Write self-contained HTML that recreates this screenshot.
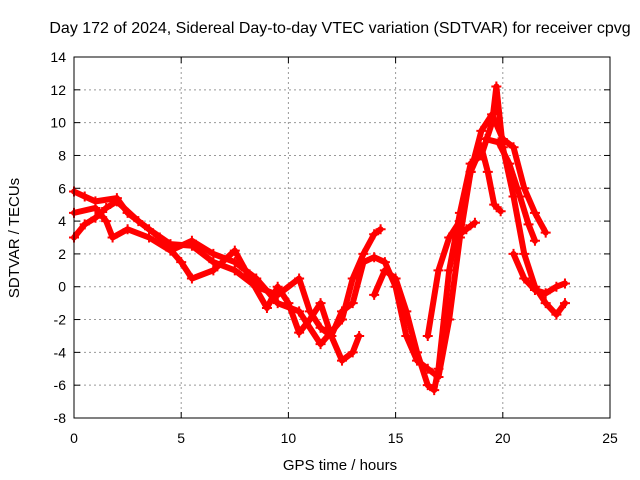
<!DOCTYPE html>
<html><head><meta charset="utf-8"><style>
body{margin:0;background:#fff;}
svg{display:block;font-family:"Liberation Sans",sans-serif;}
</style></head><body>
<svg id="chart" width="640" height="480">
<text x="340" y="33" font-size="16" text-anchor="middle">Day 172 of 2024, Sidereal Day-to-day VTEC variation (SDTVAR) for receiver cpvg</text>
<text x="340" y="470" font-size="15" text-anchor="middle">GPS time / hours</text>
<text transform="translate(19,238) rotate(-90)" font-size="15" text-anchor="middle">SDTVAR / TECUs</text>
<g id="grid"></g><g id="ticks"></g><g id="series"></g>
<rect x="74" y="57" width="536" height="361" fill="none" stroke="#000" stroke-width="1"/>
</svg>
<script>
const xTicks=[0,5,10,15,20,25];
const yTicks=[-8,-6,-4,-2,0,2,4,6,8,10,12,14];
const trackA=[[0,5.8],[0.5,5.5],[1,5.2],[2,5.4],[2.5,4.5],[3.5,3.5],[4.5,2.6],[5.5,2.5],[6.5,1.5],[7.5,1],[8.5,0],[9.5,-0.5],[10.5,0.5],[11,-1.5],[11.5,-2.5],[12,-3],[12.5,-1.5],[13,-1],[13.5,1.5],[14,1.8],[14.5,1.5],[15,0],[15.5,-3],[16,-4.5],[16.5,-5],[17,-5.5],[17.5,-2],[18,3],[18.5,7],[19,9.5],[19.5,10.5],[20,9],[20.5,8.5],[21,6],[21.5,4.5],[22,3.3]];
const trackB=[[0,3],[0.5,3.8],[1,4.2],[1.5,4.8],[2,5.2],[3,4],[4,3],[5,1.5],[5.5,0.5],[6.5,1],[7.5,2.2],[8,1],[9,-1.3],[9.5,0],[10,-1],[10.5,-2.8],[11,-2],[11.5,-1],[12,-3],[12.5,-4.5],[13,-4],[13.3,-3]];
const trackC=[[0,4.5],[1,4.8],[1.5,4],[1.8,3],[2.5,3.5],[3.5,3],[4.5,2.2],[5.5,2.8],[6.5,2],[7.5,1.5],[8.5,0.5],[9.5,-1],[10.5,-1.5],[11.5,-3.5],[12.5,-2],[13,0.5],[13.5,2],[14,3.2],[14.3,3.5]];
const trackD=[[14,-0.5],[14.5,1],[15,0.5],[15.5,-1.5],[16,-4],[16.5,-6],[16.8,-6.3],[17,-5],[17.5,1],[18,4.5],[18.5,7.5],[19,8],[19.5,10],[19.7,12.2],[20,8.5],[20.5,5.5],[21,2],[21.5,0],[22,-1],[22.5,-1.7],[22.9,-1]];
const trackE=[[16.5,-3],[17,1],[17.5,3],[18,4],[18.5,7],[19,8.5],[19.3,7],[19.6,5],[19.9,4.6]];
const trackF=[[17.8,3],[18.3,3.5],[18.7,3.9]];
const trackG=[[19.2,9],[19.8,8.8],[20.3,7.5],[20.8,5.5],[21.2,3.8],[21.5,2.8]];
const trackH=[[20.5,2],[21,0.5],[21.5,-0.2],[22,-0.4],[22.5,0],[22.9,0.2]];
const tracks=[trackA,trackB,trackC,trackD,trackE,trackF,trackG,trackH];
const X0=74,X1=610,Y0=418,Y1=57;
const sx=v=>X0+(v-0)/(25-0)*(X1-X0);
const sy=v=>Y0-(v+8)/(14+8)*(Y0-Y1);
const NS="http://www.w3.org/2000/svg";
const g=document.getElementById('grid'),t=document.getElementById('ticks'),s=document.getElementById('series');
function mk(tag,at,p){const e=document.createElementNS(NS,tag);for(const k in at)e.setAttribute(k,at[k]);p.appendChild(e);return e;}
xTicks.forEach(v=>{const x=sx(v);
 if(v>0&&v<25){const l=mk('line',{x1:x,x2:x,y1:Y1,y2:Y0,stroke:'#999','stroke-dasharray':'2,3'},g);
 
 }
 mk('line',{x1:x,x2:x,y1:Y0,y2:Y0-6,stroke:'#000'},t);mk('line',{x1:x,x2:x,y1:Y1,y2:Y1+6,stroke:'#000'},t);
 const tx=mk('text',{x:x,y:443,'font-size':14,'text-anchor':'middle'},t);tx.textContent=v;
 
 });
yTicks.forEach(v=>{const y=sy(v);
 if(v>-8&&v<14){const l=mk('line',{x1:X0,x2:X1,y1:y,y2:y,stroke:'#999','stroke-dasharray':'2,3'},g);
 
 }
 mk('line',{x1:X0,x2:X0+6,y1:y,y2:y,stroke:'#000'},t);mk('line',{x1:X1,x2:X1-6,y1:y,y2:y,stroke:'#000'},t);
 const tx=mk('text',{x:X0-8,y:y+5,'font-size':14,'text-anchor':'end'},t);tx.textContent=v;
 
 });
tracks.forEach(tr=>{
 const p=mk('polyline',{points:tr.map(d=>sx(d[0])+','+sy(d[1])).join(' '),fill:'none',stroke:'#f00','stroke-width':6,'stroke-linejoin':'round','stroke-linecap':'round'},s);
 
 
 tr.forEach(d=>{const x=sx(d[0]),y=sy(d[1]);
  const m=mk('path',{d:`M${x-5},${y}H${x+5}M${x},${y-5}V${y+5}`,stroke:'#f00','stroke-width':2},s);
  
  });
});
</script>
</body></html>
